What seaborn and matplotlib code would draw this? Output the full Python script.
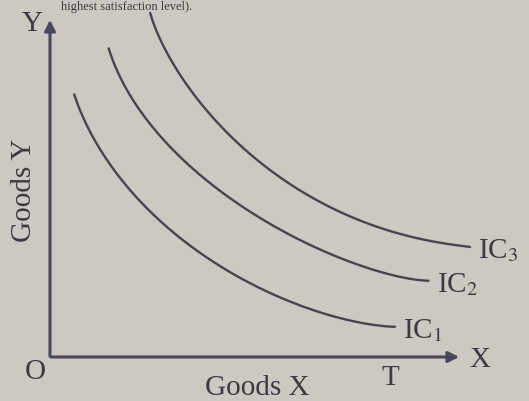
import numpy as np
import pandas as pd
import seaborn as sns
import matplotlib
matplotlib.use("Agg")
import matplotlib.pyplot as plt

# Indifference curves (arbitrary units)
ic1_x = [24, 51, 92, 153, 220, 288, 345]
ic1_y = [263, 206, 155, 101, 64, 40, 30]
ic2_x = [58, 85, 119, 186, 254, 322, 379]
ic2_y = [309, 257, 209, 155, 115, 88, 76]
ic3_x = [100, 126, 170, 237, 305, 372, 420]
ic3_y = [344, 290, 230, 176, 138, 118, 110]
curve_labels = ["IC$_1$", "IC$_2$", "IC$_3$"]

rows = []
for name, xs, ys in zip(["IC1", "IC2", "IC3"], [ic1_x, ic2_x, ic3_x], [ic1_y, ic2_y, ic3_y]):
    xs = np.array(xs, float); ys = np.array(ys, float)
    t = np.linspace(0, 1, len(xs))
    tt = np.linspace(0, 1, 120)
    cx = np.polyfit(t, xs, 4); cy = np.polyfit(t, ys, 4)
    for a, b in zip(np.polyval(cx, tt), np.polyval(cy, tt)):
        rows.append({"curve": name, "x": a, "y": b})
df = pd.DataFrame(rows)

sns.set_theme(style="white")
plt.rcParams["font.family"] = ["Liberation Serif", "DejaVu Serif"]
plt.rcParams["mathtext.fontset"] = "stix"

bg = "#ccc8c2"
ink = "#47454c"
fig = plt.figure(figsize=(5.29, 4.02), dpi=100, facecolor=bg)
ax = fig.add_axes([0, 0, 1, 1], facecolor=bg)

sns.lineplot(data=df, x="x", y="y", hue="curve", sort=False, estimator=None,
             palette=[ink, ink, ink], linewidth=1.7, legend=False, ax=ax)

ax.set_xlim(-50, 479)
ax.set_ylim(-44, 358)
for s in ax.spines.values():
    s.set_visible(False)
ax.set_xticks([]); ax.set_yticks([])
ax.set_xlabel(""); ax.set_ylabel("")

# axes with arrows
ax.annotate("", xy=(412, 0), xytext=(-2, 0),
            arrowprops=dict(arrowstyle="-|>", color="#4a475a", lw=2.2, mutation_scale=16))
ax.annotate("", xy=(0, 340), xytext=(0, -2),
            arrowprops=dict(arrowstyle="-|>", color="#4a475a", lw=2.2, mutation_scale=16))

tc = "#3c3a3e"
fs = 21
ax.text(-18, 334, "Y", fontsize=fs, color=tc, ha="center", va="center")
ax.text(-15, -14, "O", fontsize=fs, color=tc, ha="center", va="center")
ax.text(430, -2, "X", fontsize=fs, color=tc, ha="center", va="center")
ax.text(207, -30, "Goods X", fontsize=fs, color=tc, ha="center", va="center")
ax.text(340, -20, "T", fontsize=fs, color=tc, ha="center", va="center")
ax.text(-26, 168, "Goods Y", fontsize=fs, color=tc, ha="center", va="center", rotation=90)

for xs, ys, lab in zip([ic1_x, ic2_x, ic3_x], [ic1_y, ic2_y, ic3_y], curve_labels):
    ax.text(xs[-1] + 8, ys[-1] - 3, lab, fontsize=fs, color=tc, ha="left", va="center")

# caption fragment at top (kept fully visible)
fig.text(0.115, 0.997, "highest satisfaction level).", fontsize=9, color=tc,
         ha="left", va="top")

fig.savefig("out.png", dpi=100, facecolor=bg)
